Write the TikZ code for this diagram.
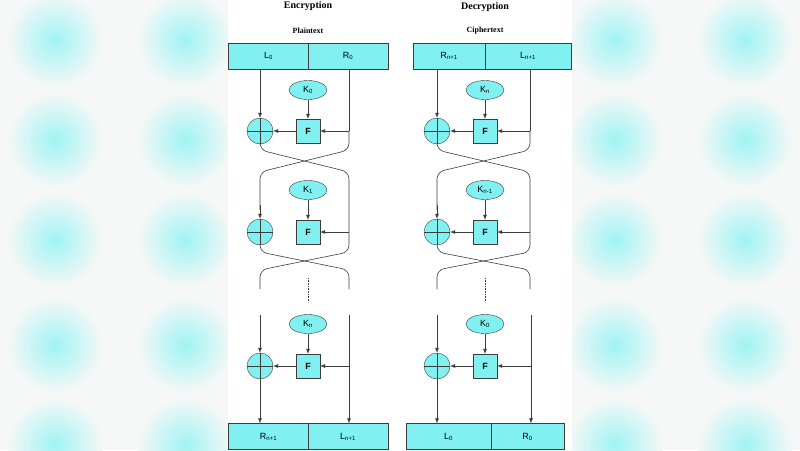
\documentclass[tikz,border=0pt]{standalone}
\usepackage{fontspec}
\setmainfont{Liberation Sans}
\newfontfamily\titlefont{Liberation Serif}
\definecolor{boxcyan}{RGB}{128,240,240}
\definecolor{bggray}{RGB}{246,247,247}
\definecolor{linegray}{RGB}{60,60,60}
\newcommand{\subi}[1]{\textsubscript{#1}}
\tikzset{
  blk/.style={draw=linegray,fill=boxcyan,minimum height=26pt,inner sep=0pt,font=\small},
  key/.style={ellipse,draw=linegray,fill=boxcyan,minimum width=38pt,minimum height=19pt,inner sep=0pt,font=\small},
  fun/.style={draw=linegray,fill=boxcyan,minimum size=24pt,inner sep=0pt,font=\small\bfseries},
  xor/.style={circle,draw=linegray,fill=boxcyan,minimum size=26pt,inner sep=0pt,
    path picture={\draw[linegray] (path picture bounding box.north) -- (path picture bounding box.south)
      (path picture bounding box.west) -- (path picture bounding box.east);}},
  wire/.style={draw=linegray,line width=0.6pt},
  arr/.style={wire,-{Latex[length=5pt,width=4pt]}},
  cross/.style={wire,rounded corners=7pt},
}
\usetikzlibrary{shapes.geometric,arrows.meta}
\begin{document}
\begin{tikzpicture}[x=1pt,y=-1pt]
% background
\useasboundingbox (0,0) rectangle (800,450);
\clip (0,0) rectangle (800,450);
\fill[bggray] (0,0) rectangle (800,450);
\foreach \bx in {55,185,615,745}
  \foreach \by in {40,140,240,345,445}
    \shade[inner color=boxcyan!75,outer color=bggray] (\bx,\by) circle (48);
\fill[white] (228,0) rectangle (572,450);

% ---------------- Encryption ----------------
\node[font=\titlefont\bfseries\normalsize] (enc) at (308,6) {Encryption};
\node[font=\titlefont\bfseries\footnotesize] (pt) at (308,31) {Plaintext};
\node[blk,minimum width=80pt] (l0) at (268.5,56) {L\subi{0}};
\node[blk,minimum width=80pt] (r0) at (348,56) {R\subi{0}};
% round 1
\node[key] (ek1) at (308,90) {K\subi{0}};
\node[fun] (ef1) at (308,131) {F};
\node[xor] (ex1) at (260,131) {};
\coordinate (eb1) at (349,131);
\draw[arr] (l0.south -| ex1) -- (ex1);
\draw[arr] (ek1) -- (ef1);
\draw[arr] (eb1) -- (ef1);
\draw[arr] (ef1) -- (ex1);
% round 2
\node[key] (ek2) at (308,190) {K\subi{1}};
\node[fun] (ef2) at (308,232) {F};
\node[xor] (ex2) at (260,232) {};
\coordinate (eb2) at (349,232);
\draw[arr] (ek2) -- (ef2);
\draw[arr] (eb2) -- (ef2);
% crossings
\draw[cross] (ex1.south) -- (260,150) -- (349,172) -- (eb2);
\draw[wire] (r0.south -| eb1) -- (eb1);
\draw[cross] (eb1) -- (349,150) -- (260,172) -- (260,210);
\draw[arr] (260,205) -- (ex2);
\draw[cross] (ex2.south) -- (260,252) -- (349,270) -- (349,289);
\draw[cross] (eb2) -- (349,252) -- (260,270) -- (260,289);
\draw[wire,densely dotted] (308,278) -- (308,302);
% round n
\node[key] (ek3) at (308,324) {K\subi{n}};
\node[fun] (ef3) at (308,366) {F};
\node[xor] (ex3) at (260,366) {};
\coordinate (eb3) at (349,366);
\node[blk,minimum width=80pt] (er) at (268.5,436.5) {R\subi{n+1}};
\node[blk,minimum width=80pt] (el) at (348,436.5) {L\subi{n+1}};
\draw[arr] (260,315) -- (ex3);
\draw[arr] (ek3) -- (ef3);
\draw[arr] (eb3) -- (ef3);
\draw[arr] (ef3) -- (ex3);
\draw[arr] (ex3) -- (er.north -| ex3);
\draw[arr] (349,315) -- (el.north -| eb3);

% ---------------- Decryption ----------------
\node[font=\titlefont\bfseries\normalsize] (dec) at (485,7) {Decryption};
\node[font=\titlefont\bfseries\footnotesize] (ct) at (485,31) {Ciphertext};
\node[blk,minimum width=72pt] (dr0) at (449,56) {R\subi{n+1}};
\node[blk,minimum width=86pt] (dl0) at (528,56) {L\subi{n+1}};
% round 1
\node[key] (dk1) at (485,90) {K\subi{n}};
\node[fun] (df1) at (485,131) {F};
\node[xor] (dx1) at (437,131) {};
\coordinate (db1) at (530,131);
\draw[arr] (dr0.south -| dx1) -- (dx1);
\draw[arr] (dk1) -- (df1);
\draw[arr] (db1) -- (df1);
\draw[arr] (df1) -- (dx1);
% round 2
\node[key] (dk2) at (485,190) {K\subi{n-1}};
\node[fun] (df2) at (485,232) {F};
\node[xor] (dx2) at (437,232) {};
\coordinate (db2) at (530,232);
\draw[arr] (dk2) -- (df2);
\draw[arr] (db2) -- (df2);
\draw[arr] (df2) -- (dx2);
% crossings
\draw[cross] (dx1.south) -- (437,150) -- (530,172) -- (db2);
\draw[wire] (dl0.south -| db1) -- (db1);
\draw[cross] (db1) -- (530,150) -- (437,172) -- (437,210);
\draw[arr] (437,205) -- (dx2);
\draw[cross] (dx2.south) -- (437,252) -- (530,270) -- (530,289);
\draw[cross] (db2) -- (530,252) -- (437,270) -- (437,289);
\draw[wire,densely dotted] (485,278) -- (485,302);
% round n
\node[key] (dk3) at (485,324) {K\subi{0}};
\node[fun] (df3) at (485,366) {F};
\node[xor] (dx3) at (437,366) {};
\coordinate (db3) at (531,366);
\node[blk,minimum width=85pt] (dl) at (448.5,436.5) {L\subi{0}};
\node[blk,minimum width=73pt] (dr) at (527.5,436.5) {R\subi{0}};
\draw[arr] (437,315) -- (dx3);
\draw[arr] (dk3) -- (df3);
\draw[arr] (db3) -- (df3);
\draw[arr] (df3) -- (dx3);
\draw[arr] (dx3) -- (dl.north -| dx3);
\draw[arr] (531,315) -- (dr.north -| db3);
\end{tikzpicture}
\end{document}
